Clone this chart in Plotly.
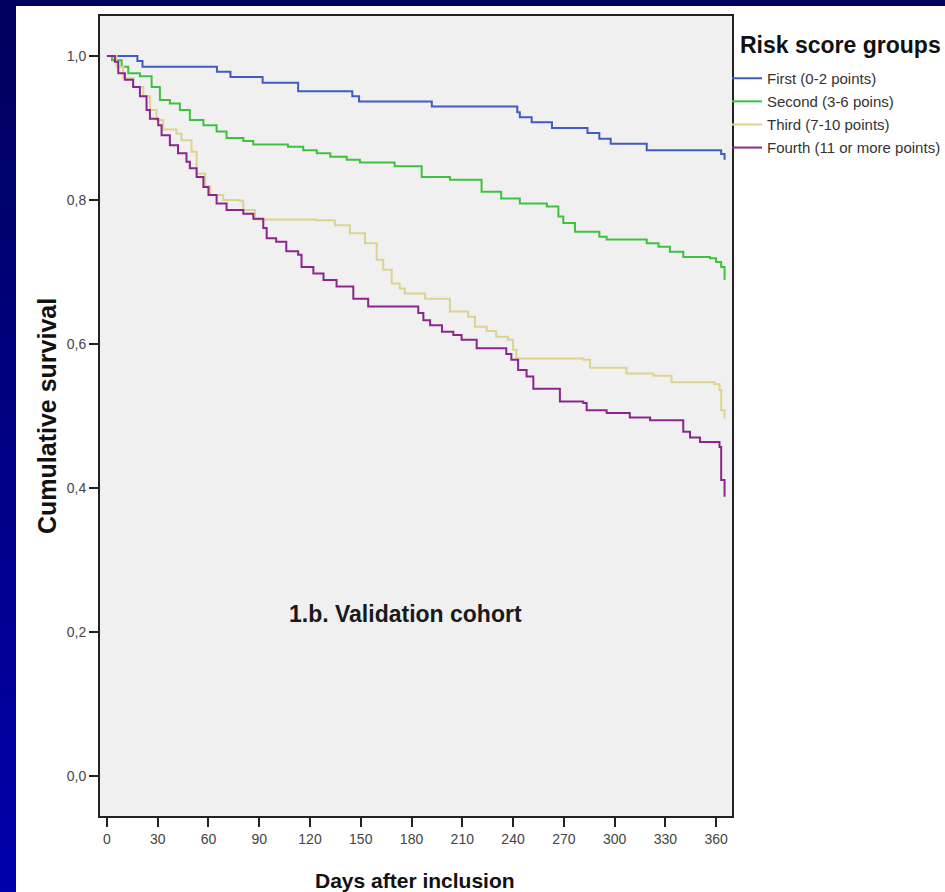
import base64
import struct
import zlib
import plotly.graph_objects as go

# ---- data ----
first_days = [0, 18, 21, 65, 73, 92, 113, 145, 149, 192, 242.5, 244, 251, 263, 284, 291, 297.7, 319, 363, 365]
first_surv = [1.0, 0.993, 0.985, 0.978, 0.971, 0.963, 0.951, 0.944, 0.937, 0.930, 0.922, 0.915, 0.908, 0.900, 0.893, 0.885, 0.878, 0.869, 0.864, 0.856]

second_days = [0, 3, 8.7, 12.6, 19.5, 26.4, 31.3, 37.2, 43.1, 49, 57, 64.8, 70.7, 80.6, 86.5, 107, 116, 124, 132, 141.7, 149.5, 170, 186, 202.7, 221.4, 233, 244, 260, 266.8, 269.7, 276.6, 291, 295.3, 319, 326, 332.7, 340.6, 356.4, 360, 363, 365]
second_surv = [1.0, 0.994, 0.985, 0.976, 0.972, 0.957, 0.939, 0.934, 0.925, 0.911, 0.904, 0.895, 0.886, 0.882, 0.877, 0.874, 0.869, 0.865, 0.860, 0.856, 0.852, 0.847, 0.832, 0.828, 0.8115, 0.802, 0.795, 0.791, 0.777, 0.768, 0.756, 0.749, 0.745, 0.740, 0.735, 0.728, 0.721, 0.719, 0.714, 0.707, 0.689]

third_days = [0, 5.7, 9.6, 15.5, 21.5, 25.4, 29.3, 33.3, 41, 44, 50, 53, 58, 61, 68.7, 78.6, 80.6, 87.5, 124, 134.7, 143.6, 152.5, 159.4, 163.3, 168.3, 173, 176, 188, 202.7, 213.5, 217.5, 224.4, 230, 237, 240, 242, 281.5, 285.5, 307, 323, 333.7, 359, 362, 363, 365]
third_surv = [1.0, 0.985, 0.969, 0.957, 0.944, 0.925, 0.911, 0.898, 0.892, 0.883, 0.867, 0.837, 0.819, 0.807, 0.800, 0.799, 0.786, 0.773, 0.772, 0.765, 0.754, 0.740, 0.717, 0.703, 0.684, 0.677, 0.670, 0.663, 0.645, 0.638, 0.624, 0.618, 0.610, 0.606, 0.592, 0.580, 0.578, 0.567, 0.559, 0.556, 0.547, 0.544, 0.536, 0.508, 0.497]

fourth_days = [0, 4.7, 6.7, 10.6, 15.5, 19.5, 23.4, 25.4, 30.3, 32.3, 37.2, 42, 47, 49, 53, 57, 60, 64.8, 70.7, 80.6, 86.5, 92.4, 94.4, 100, 106, 113, 115, 122, 128, 135.7, 145.6, 154.4, 184, 187, 191, 198, 204.7, 209.6, 218.5, 236, 239, 243, 248, 252, 267.7, 281.5, 283.5, 295.3, 309, 321, 340.6, 344.6, 350.5, 362, 363, 365]
fourth_surv = [1.0, 0.992, 0.976, 0.967, 0.957, 0.944, 0.925, 0.913, 0.904, 0.890, 0.876, 0.865, 0.853, 0.844, 0.832, 0.818, 0.807, 0.795, 0.786, 0.781, 0.774, 0.761, 0.747, 0.742, 0.729, 0.724, 0.707, 0.698, 0.689, 0.680, 0.663, 0.652, 0.643, 0.633, 0.626, 0.617, 0.6125, 0.606, 0.594, 0.586, 0.578, 0.564, 0.555, 0.538, 0.520, 0.518, 0.508, 0.504, 0.498, 0.494, 0.478, 0.470, 0.464, 0.457, 0.411, 0.388]

group_names = ["First (0-2 points)", "Second (3-6 poins)", "Third (7-10 points)", "Fourth (11 or more points)"]
x_ticks = [0, 30, 60, 90, 120, 150, 180, 210, 240, 270, 300, 330, 360]
y_ticks = [0.0, 0.2, 0.4, 0.6, 0.8, 1.0]
y_tick_text = ["0,0", "0,2", "0,4", "0,6", "0,8", "1,0"]

colors = ["#3f5cc0", "#3ec23e", "#dcd48e", "#8c268c"]
series = [(first_days, first_surv), (second_days, second_surv),
          (third_days, third_surv), (fourth_days, fourth_surv)]

fig = go.Figure()
for i, ((d, s), name) in enumerate(zip(series, group_names)):
    fig.add_trace(go.Scatter(x=d, y=s, mode="lines", name=name,
                             line=dict(color=colors[i], width=2, shape="hv"),
                             legendgroup=f"g{i}"))

# plot area in px: x 100..732, y 16..816
L, R, T, B = 100, 732, 16, 816
W, H = 945, 892
def px(x):
    return (x - L) / (R - L)
def py(y):
    return (B - y) / (B - T)


def gradient_png(h, top, bottom):
    rows = []
    for k in range(h):
        t = k / (h - 1)
        rgb = bytes(int(top[c] + (bottom[c] - top[c]) * t) for c in range(3))
        rows.append(b"\x00" + rgb)
    raw = b"".join(rows)

    def chunk(tag, data):
        c = struct.pack(">I", len(data)) + tag + data
        return c + struct.pack(">I", zlib.crc32(tag + data) & 0xffffffff)

    png = b"\x89PNG\r\n\x1a\n"
    png += chunk(b"IHDR", struct.pack(">IIBBBBB", 1, h, 8, 2, 0, 0, 0))
    png += chunk(b"IDAT", zlib.compress(raw))
    png += chunk(b"IEND", b"")
    return "data:image/png;base64," + base64.b64encode(png).decode()


band_src = gradient_png(H, (0, 0, 0x5c), (0, 0, 0xac))

shapes = [dict(type="rect", xref="paper", yref="paper",
               x0=px(-2), x1=px(W + 2), y0=py(6), y1=py(-2),
               fillcolor="#000060", line=dict(width=0), layer="below")]

title_font = "Liberation Sans, Arial, sans-serif"
annotations = [
    dict(text="<b>1.b. Validation cohort</b>", x=px(405), y=py(614), xref="paper", yref="paper",
         xanchor="center", yanchor="middle",
         showarrow=False, font=dict(size=23, color="#1a1a1a", family=title_font)),
    dict(text="<b>Cumulative survival</b>", x=px(47), y=py(416), xref="paper", yref="paper",
         xanchor="center", yanchor="middle",
         showarrow=False, textangle=-90, font=dict(size=25, color="#111111", family=title_font)),
    dict(text="<b>Days after inclusion</b>", x=px(415), y=py(880), xref="paper", yref="paper",
         xanchor="center", yanchor="middle",
         showarrow=False, font=dict(size=21, color="#111111", family=title_font)),
    dict(text="<b>Risk score groups</b>", x=px(840), y=py(45), xref="paper", yref="paper",
         xanchor="center", yanchor="middle",
         showarrow=False, font=dict(size=23, color="#111111", family=title_font)),
]

fig.update_layout(
    width=W, height=H,
    margin=dict(l=L, r=W - R, t=T, b=H - B, autoexpand=False),
    paper_bgcolor="white", plot_bgcolor="#f0f0f0",
    font=dict(family="Liberation Sans, Arial, sans-serif", color="#444444"),
    shapes=shapes, annotations=annotations,
    images=[dict(source=band_src, xref="paper", yref="paper",
                 x=px(0), y=py(0), sizex=16 / (R - L), sizey=H / (B - T),
                 xanchor="left", yanchor="top", sizing="stretch", layer="below")],
    showlegend=True,
    legend=dict(
        x=px(727), xanchor="left", y=py(62), yanchor="top",
        font=dict(size=15, color="#333333"),
        bgcolor="rgba(0,0,0,0)", borderwidth=0,
        tracegroupgap=0.6, itemwidth=30, traceorder="grouped",
    ),
)
fig.update_xaxes(range=[-4.1, 369.4], tickvals=x_ticks, ticks="outside", ticklen=9,
                 tickwidth=2, tickcolor="#222222", showgrid=False, zeroline=False,
                 showline=True, linecolor="#222222", linewidth=2, mirror=True,
                 tickfont=dict(size=14, color="#444444"))
fig.update_yaxes(range=[-0.0556, 1.0556], tickvals=y_ticks, ticktext=y_tick_text,
                 ticks="outside", ticklen=9, tickwidth=2, tickcolor="#222222",
                 showgrid=False, zeroline=False, showline=True, linecolor="#222222",
                 linewidth=2, mirror=True, tickfont=dict(size=14, color="#444444"))

fig.write_html("out.html")
